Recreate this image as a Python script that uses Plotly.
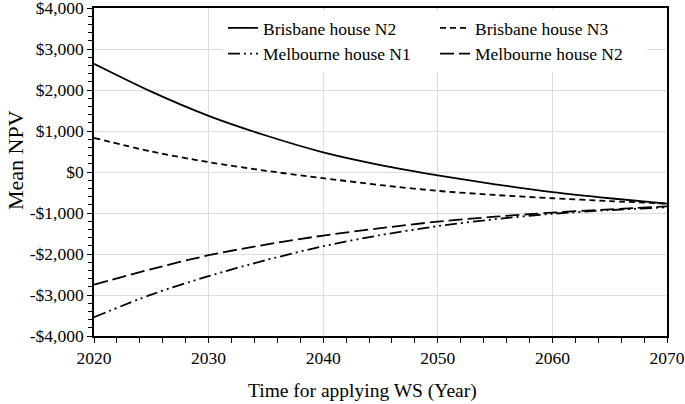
import plotly.graph_objects as go

years = [2020, 2025, 2030, 2035, 2040, 2045, 2050, 2055, 2060, 2065, 2070]
brisbane_n2 = [2640, 1960, 1370, 890, 480, 170, -80, -300, -490, -640, -770]
brisbane_n3 = [830, 500, 240, 30, -150, -320, -460, -560, -640, -710, -770]
melbourne_n1 = [-3540, -2990, -2540, -2150, -1810, -1540, -1320, -1150, -1020, -930, -860]
melbourne_n2 = [-2750, -2370, -2030, -1770, -1550, -1370, -1210, -1090, -990, -910, -840]

y_tickvals = [-4000, -3000, -2000, -1000, 0, 1000, 2000, 3000, 4000]
y_ticktext = ["-$4,000", "-$3,000", "-$2,000", "-$1,000", "$0", "$1,000", "$2,000", "$3,000", "$4,000"]
x_tickvals = [2020, 2030, 2040, 2050, 2060, 2070]

series = [
    ("Brisbane house N2", brisbane_n2, "solid"),
    ("Brisbane house N3", brisbane_n3, "6px,4px"),
    ("Melbourne house N1", melbourne_n1, "12px,4px,2px,4px,2px,4px"),
    ("Melbourne house N2", melbourne_n2, "14px,5px"),
]

fig = go.Figure()
for name, vals, dash in series:
    fig.add_trace(go.Scatter(
        x=years, y=vals, name=name, mode="lines",
        line=dict(color="black", width=1.8, dash=dash, shape="spline", smoothing=0.8),
    ))

font = "Liberation Serif, Times New Roman, serif"
fig.update_layout(
    width=685, height=404,
    margin=dict(l=94, r=18, t=8, b=68, autoexpand=False),
    paper_bgcolor="white", plot_bgcolor="white",
    font=dict(family=font, size=17.5, color="black"),
    showlegend=True,
    legend=dict(
        orientation="h", x=(223 - 94) / 573, y=(336 - 10) / 328,
        xanchor="left", yanchor="top",
        entrywidth=167, entrywidthmode="pixels",
        bgcolor="white", borderwidth=0,
        font=dict(family=font, size=17.5, color="black"),
        tracegroupgap=0,
    ),
    xaxis=dict(
        range=[2020, 2070], tickvals=x_tickvals, automargin=False,
        ticklabeloverflow="allow",
        showgrid=True, gridcolor="#dcdcdc", gridwidth=1,
        showline=True, linecolor="black", linewidth=1.5, mirror=True,
        ticks="outside", ticklen=5, tickcolor="black",
        minor=dict(dtick=2, ticks="outside", ticklen=5, tickcolor="black", showgrid=False),
        zeroline=False,
    ),
    yaxis=dict(
        range=[-4000, 4000], tickvals=y_tickvals, ticktext=y_ticktext, automargin=False,
        ticklabeloverflow="allow",
        showgrid=True, gridcolor="#dcdcdc", gridwidth=1,
        showline=True, linecolor="black", linewidth=1.5, mirror=True,
        ticks="outside", ticklen=5, tickcolor="black",
        minor=dict(tickvals=[v for v in range(-4000, 4001, 200)], ticks="outside", ticklen=4, tickcolor="black", showgrid=False),
        zeroline=False,
    ),
    annotations=[
        dict(text="Time for applying WS (Year)", xref="paper", yref="paper",
             x=(362 - 94) / 573, y=(336 - 391) / 328, xanchor="center", yanchor="middle",
             showarrow=False, font=dict(family=font, size=19.5)),
        dict(text="Mean NPV", xref="paper", yref="paper",
             x=-(94 - 15) / 573, y=(336 - 160) / 328, xanchor="center", yanchor="middle",
             textangle=-90, showarrow=False, font=dict(family=font, size=22)),
    ],
)

# remove the browser's default 8px body margin so the figure fills the window
fig.write_html("out.html", config={"displayModeBar": False},
               post_script="document.body.style.margin='0';")
